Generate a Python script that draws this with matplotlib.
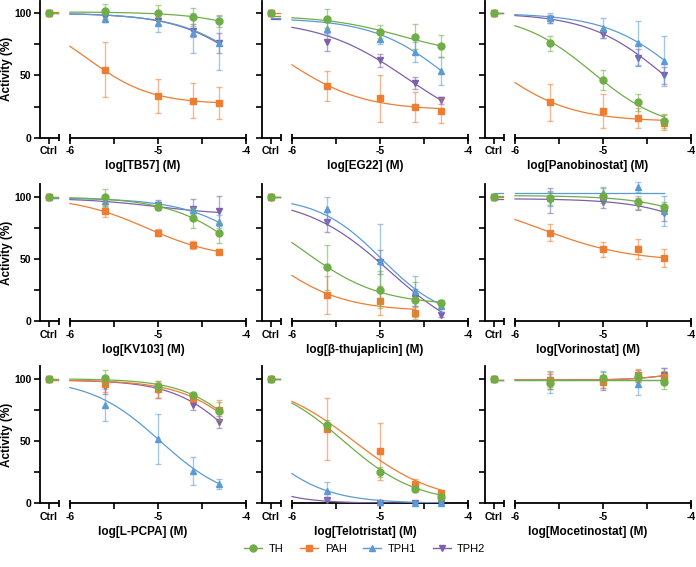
import numpy as np
import matplotlib
matplotlib.use('Agg')
import matplotlib.pyplot as plt
from matplotlib.lines import Line2D

plt.rcParams['font.family'] = ['Liberation Sans', 'DejaVu Sans']

ENZYMES = ['TH', 'PAH', 'TPH1', 'TPH2']
COLORS = ['#70AD47', '#ED7D31', '#5B9BD5', '#7E5FAA']
MARKERS = ['o', 's', '^', 'v']

# tested concentrations (M), same for every compound
CONC = [2.5e-6, 1e-5, 2.5e-5, 5e-5]
CTRL = [100, 100, 100, 100]

# mean activity (%) and SD, rows = TH, PAH, TPH1, TPH2
# fit rows = bottom, top, logIC50, hill
nan = float('nan')

tb57_mean = [[101.6, 100.3, 97, 93.8], [54.6, 33.6, 29.8, 28], [95.7, 92.2, 84, 76], [97, 94, 86, 76]]
tb57_sd = [[6, 6, 7, 5], [22, 13.4, 14, 13], [3, 7, 16, 22], [3, 3, 5, 8]]
tb57_fit = [[0, 101, -3.2, 1], [27, 100, -5.8, 1.2], [0, 100, -3.8, 1], [0, 100, -3.82, 1]]

eg22_mean = [[95.7, 85.2, 81.1, 73.6], [41.8, 31.5, 25, 21.8], [87.6, 79.5, 69, 53.4], [76.8, 62, 44, 30]]
eg22_sd = [[8, 5, 10, 8.5], [12, 19, 12, 10], [5, 4, 8, 11], [7, 5, 5, 3]]
eg22_fit = [[65, 98, -4.75, 1], [22, 100, -6.056, 1], [0, 96, -4.2, 1], [0, 95, -4.69, 0.87]]

pano_mean = [[75.9, 46.4, 28.4, 13.4], [28.4, 21.4, 16, 12], [96, 88, 76, 61.9], [95.4, 83.4, 64.3, 50]]
pano_sd = [[6, 8, 7, 6], [15, 14, 8, 6], [4, 8, 18, 20], [3, 3, 7, 7]]
pano_fit = [[5, 100, -5.12, 1.05], [13, 100, -6.25, 1], [0, 100, -4.088, 1], [0, 100, -4.3, 1]]

kv103_mean = [[99.5, 92, 82.9, 70.6], [88.5, 71.1, 61.2, 55.9], [96.8, 94, 89, 80], [97, 93.5, 90.5, 88.5]]
kv103_sd = [[7, 3, 8, 8], [5, 3, 3, 2], [5, 2, 3, 5], [3, 4, 8, 12]]
kv103_fit = [[0, 100, -3.92, 1], [50, 100, -5.13, 1.05], [0, 99, -3.7, 1], [85, 99, -5.0, 1]]

thuja_mean = [[43.5, 25.3, 17.5, 14.5], [21.2, 16.7, 6.5, nan], [89.8, 48.4, 24, 12.4], [79.8, 47.6, 19, 5.1]]
thuja_sd = [[18, 15, 14, 3], [15, 12, 5, nan], [10, 30, 12, 5], [8, 10, 7, 2]]
thuja_fit = [[13, 100, -5.865, 1], [8, 100, -6.34, 1], [0, 100, -4.98, 1.2], [-20, 100, -4.887, 0.9]]

vorino_mean = [[98.7, 100.8, 95.4, 91.4], [71.2, 57.8, 57.8, 50.8], [98.7, 102.7, 107.5, 88.7], [97.3, 96, 94, 86.6]]
vorino_sd = [[5, 6, 5, 4], [7, 6, 8, 7], [6, 5, 4, 12], [10, 5, 5, 6]]
vorino_fit = [[0, 101, -3.3, 1], [48, 100, -5.695, 0.87], [102.7, 102.7, -5, 1], [0, 98.5, -3.4, 1]]

lpcpa_mean = [[100.8, 93.9, 87.2, 74.1], [95.5, 91.5, 84.5, 74.7], [78.7, 51.5, 25.9, 15.5], [93.9, 90.7, 79.2, 65.3]]
lpcpa_sd = [[6, 4, 2, 7], [6, 7, 3, 8], [13, 20, 11, 4], [6, 6, 4, 5]]
lpcpa_fit = [[0, 100, -3.93, 1.23], [0, 99, -3.92, 1.15], [0, 100, -4.975, 1.09], [0, 99, -4.06, 1.2]]

telo_mean = [[62.5, 25.5, 11.3, 5.4], [59.8, 41.6, 15.3, 8], [10.2, 1.3, 0.3, 0.2], [2.7, 0.5, 0.2, 0.1]]
telo_sd = [[4, 4, 2, 1], [25, 23, 4, 2], [7, 1, 0.5, 0.5], [1, 0.5, 0.3, 0.3]]
telo_fit = [[0, 100, -5.413, 1.045], [0, 100, -5.298, 0.93], [0, 100, -6.445, 1.13], [0, 100, -6.956, 1.3]]

moce_mean = [[96.5, 100.5, 101.3, 97], [99.2, 97.6, 103, 101.3], [97.6, 99.2, 96, 102], [98, 97, 102, 103]]
moce_sd = [[5, 5, 4, 5], [6, 5, 5, 5], [9, 7, 9, 7], [6, 6, 5, 6]]
moce_fit = [[99, 99, -5, 1], [106, 99, -4.3, 2], [99, 99, -5, 1], [106, 99, -4.3, 2]]

DRUGS = ['TB57', 'EG22', 'Panobinostat', 'KV103', 'β-thujaplicin', 'Vorinostat',
         'L-PCPA', 'Telotristat', 'Mocetinostat']
MEANS = [tb57_mean, eg22_mean, pano_mean, kv103_mean, thuja_mean, vorino_mean,
         lpcpa_mean, telo_mean, moce_mean]
SDS = [tb57_sd, eg22_sd, pano_sd, kv103_sd, thuja_sd, vorino_sd, lpcpa_sd, telo_sd, moce_sd]
FITS = [tb57_fit, eg22_fit, pano_fit, kv103_fit, thuja_fit, vorino_fit, lpcpa_fit, telo_fit, moce_fit]


def four_pl(x, bottom, top, logic50, hill):
    return bottom + (top - bottom) / (1 + 10 ** ((x - logic50) * hill))


W, H = 696, 567
fig = plt.figure(figsize=(W / 100, H / 100), dpi=100)

# layout (pixels): left edge of each column, y of the zero line of each row
col_left = [40, 262, 485]
row_zero = [137.7, 321.3, 503.3]
ax_w, ax_h = 206, 137

XMIN, XMAX = -6.34, -4.0
CTRL_X = -6.24
CAP_X = -6.125
logc = np.log10(CONC)

for i, drug in enumerate(DRUGS):
    r, c = divmod(i, 3)
    ax = fig.add_axes([col_left[c] / W, 1 - row_zero[r] / H, ax_w / W, ax_h / H])
    ax.set_xlim(XMIN, XMAX)
    ax.set_ylim(0, 110)
    for s in ['top', 'right', 'bottom']:
        ax.spines[s].set_visible(False)
    ax.spines['left'].set_linewidth(1.3)

    # broken x axis: Ctrl segment and log segment
    kw = dict(color='black', lw=1.3, clip_on=False, solid_capstyle='butt')
    ax.plot([XMIN, CAP_X], [0, 0], **kw)
    ax.plot([-6, -4], [0, 0], **kw)
    for cx in [CAP_X, -6, -4]:
        ax.plot([cx, cx], [-2.8, 2.8], **kw)

    ax.set_xticks([CTRL_X, -6, -5, -4])
    ax.set_xticklabels(['Ctrl', '-6', '-5', '-4'])
    ax.set_xticks([-5.5, -4.5], minor=True)
    ax.set_yticks([0, 50, 100])
    ax.set_yticks([25, 75], minor=True)
    ax.tick_params(which='both', direction='out', length=4, width=1.2, labelsize=7.5, pad=2)
    for lab in ax.get_xticklabels() + ax.get_yticklabels():
        lab.set_fontweight('bold')
    if c != 0:
        ax.set_yticklabels([])
    else:
        ax.set_ylabel('Activity (%)', fontsize=8.5, fontweight='bold', labelpad=1)
    ax.set_xlabel(f'log[{drug}] (M)', fontsize=8.5, fontweight='bold', labelpad=3)

    for k in reversed(range(4)):
        mean = np.array(MEANS[i][k], dtype=float)
        sd = np.array(SDS[i][k], dtype=float)
        fit = FITS[i][k]
        col = COLORS[k]
        ok = ~np.isnan(mean)

        ax.errorbar(logc[ok], mean[ok], yerr=sd[ok], fmt='none', ecolor=col, alpha=0.55,
                    elinewidth=1, capsize=2.5, capthick=1, clip_on=False)
        xs = np.linspace(-6, logc[ok][-1], 120)
        ax.plot(xs, four_pl(xs, *fit), color=col, lw=0.9)
        ax.plot([CTRL_X, CAP_X - 0.01], [fit[1], fit[1]], color=col, lw=0.9)
        ax.plot(logc[ok], mean[ok], ls='none', marker=MARKERS[k], ms=5, color=col, clip_on=False)
        ax.plot([CTRL_X], [CTRL[k]], ls='none', marker=MARKERS[k], ms=5, color=col, clip_on=False)

handles = [Line2D([], [], color=COLORS[k], marker=MARKERS[k], ms=5, lw=1) for k in range(4)]
fig.legend(handles, ENZYMES, loc='center', bbox_to_anchor=(365 / W, 1 - 549 / H), ncol=4,
           frameon=False, fontsize=8, handlelength=1.6, columnspacing=1.5, handletextpad=0.6)

fig.savefig('out.png', dpi=100)
